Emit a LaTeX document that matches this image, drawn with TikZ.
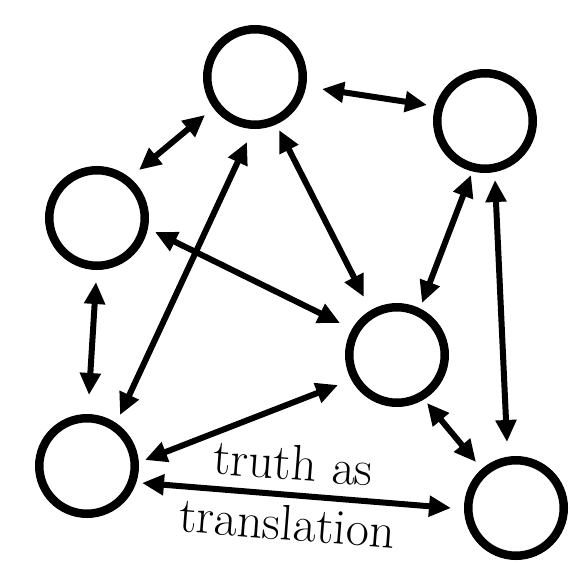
\documentclass[tikz,border=0pt]{standalone}
\usepackage{fontspec}
\usetikzlibrary{arrows.meta,calc}
\begin{document}
\begin{tikzpicture}[x=1pt,y=-1pt,
  circ/.style={circle,draw=black,line width=8.5pt,minimum size=95.5pt,inner sep=0pt},
  arr/.style={line width=6pt,{Triangle[length=22pt,width=20pt]}-{Triangle[length=22pt,width=20pt]}},
  lbl/.style={font=\fontsize{50}{55}\selectfont\addfontfeatures{FakeBold=0.5},anchor=base,inner sep=0pt,rotate=-4.5}]
\fill[white] (0,0) rectangle (570,565);
\useasboundingbox (0,0) rectangle (570,565);
\node[circ] (T) at (255,77) {};
\node[circ] (R) at (485,121) {};
\node[circ] (L) at (97,218) {};
\node[circ] (C) at (397,355) {};
\node[circ] (BL) at (87,466) {};
\node[circ] (BR) at (516,508) {};
\draw[arr] ($(T)+(67,12)$) -- ($(R)+(-58,-16)$);
\draw[arr] ($(T)+(-50,38)$) -- ($(L)+(42,-48)$);
\draw[arr] ($(T)+(24,53)$) -- ($(C)+(-33,-58)$);
\draw[arr] ($(T)+(-8,65)$) -- ($(BL)+(33,-51)$);
\draw[arr] ($(L)+(58,14)$) -- ($(C)+(-57,-32)$);
\draw[arr] ($(L)+(-1,64)$) -- ($(BL)+(2,-71)$);
\draw[arr] ($(R)+(-14,54)$) -- ($(C)+(25,-52)$);
\draw[arr] ($(R)+(10,59)$) -- ($(BR)+(-9,-66)$);
\draw[arr] ($(C)+(-59,30)$) -- ($(BL)+(58,-6)$);
\draw[arr] ($(C)+(30,48)$) -- ($(BR)+(-40,-46)$);
\draw[arr] ($(BL)+(55,17)$) -- ($(BR)+(-65,0)$);
\node[lbl] (t1) at (292,480) {truth as};
\node[lbl] (t2) at (286,540) {translation};
\end{tikzpicture}
\end{document}
